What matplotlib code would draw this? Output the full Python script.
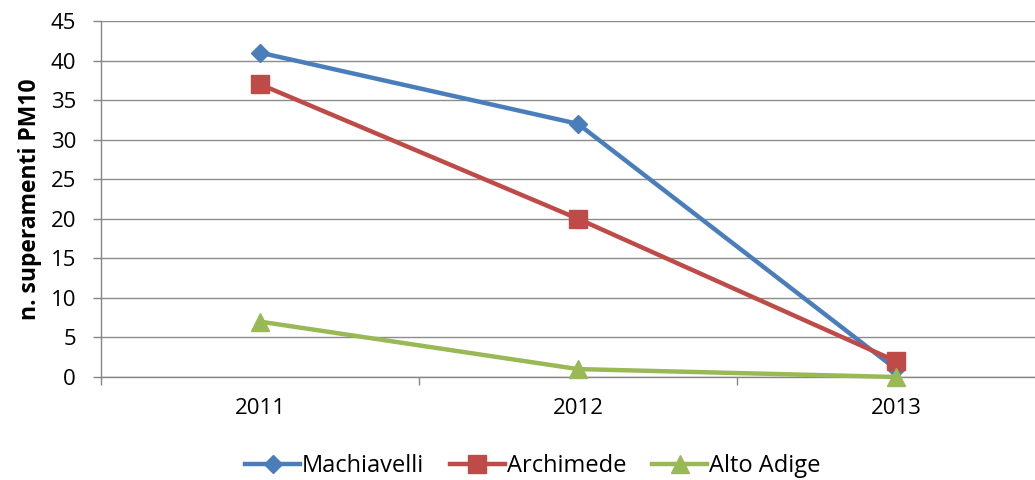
import matplotlib.pyplot as plt
from matplotlib.ticker import FixedLocator

plt.rcParams.update({
    "font.family": ["Open Sans", "DejaVu Sans"],
    "font.size": 16,
})

# Data
years = ["2011", "2012", "2013"]
machiavelli = [41, 32, 1]
archimede = [37, 20, 2]
alto_adige = [7, 1, 0]

series = [
    ("Machiavelli", machiavelli, "#4A7EBB", "D", 9),
    ("Archimede", archimede, "#BE4B48", "s", 12.5),
    ("Alto Adige", alto_adige, "#98B954", "^", 13),
]

fig = plt.figure(figsize=(10.35, 4.8), dpi=100)
# axes extends past the right edge, like the source image
ax = fig.add_axes([101 / 1035, 1 - 377 / 480, 954 / 1035, 356 / 480])

x = list(range(len(years)))
for name, vals, col, mk, ms in series:
    ax.plot(x, vals, color=col, linewidth=3.2, marker=mk, markersize=ms,
            label=name, zorder=3, clip_on=False)

ax.set_xlim(-0.5, 2.5)
ax.set_ylim(0, 45)
ax.set_yticks(range(0, 46, 5))
ax.set_xticks(x)
ax.set_xticklabels(years)
ax.xaxis.set_minor_locator(FixedLocator([-0.5, 0.5, 1.5, 2.5]))
ax.tick_params(axis="x", which="major", length=0, pad=15)
ax.tick_params(axis="x", which="minor", length=6, color="#868686", width=1)
ax.tick_params(axis="y", length=6, color="#868686", width=1, pad=12)

ax.grid(axis="y", color="#8C8C8C", linewidth=1)
ax.set_axisbelow(True)
for s in ["top", "right"]:
    ax.spines[s].set_visible(False)
for s in ["left", "bottom"]:
    ax.spines[s].set_color("#868686")
    ax.spines[s].set_linewidth(1)

ax.set_ylabel("n. superamenti PM10", fontweight="bold", fontsize=16.5,
              labelpad=6)

fig.legend(loc="center", bbox_to_anchor=(0.515, 1 - 466 / 480), ncol=3,
           frameon=False, handlelength=2.3, handletextpad=0.1,
           columnspacing=1.1, fontsize=17)

fig.savefig("out.png", dpi=100)
